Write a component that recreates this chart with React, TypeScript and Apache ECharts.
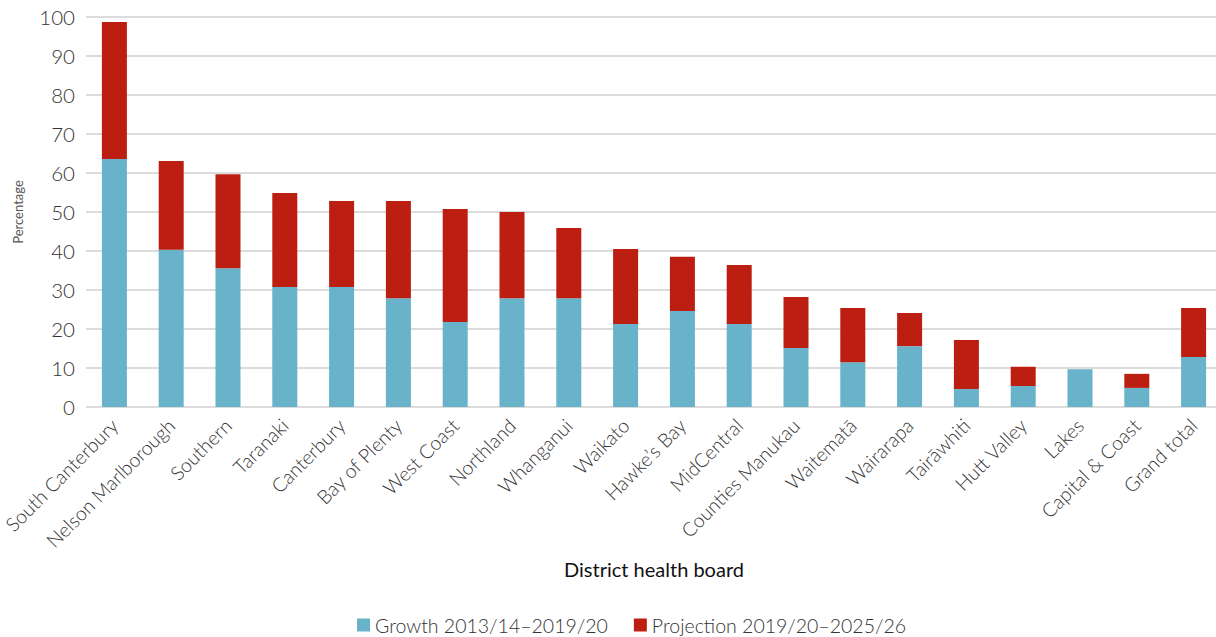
import React, { useEffect, useRef } from "react";
import * as echarts from "echarts";

const categories = [
  "South Canterbury", "Nelson Marlborough", "Southern", "Taranaki", "Canterbury",
  "Bay of Plenty", "West Coast", "Northland", "Whanganui", "Waikato",
  "Hawke\u2019s Bay", "MidCentral", "Counties Manukau", "Waitemat\u0101", "Wairarapa",
  "Tair\u0101whiti", "Hutt Valley", "Lakes", "Capital & Coast", "Grand total",
];
const growth = [63.6, 40.3, 35.6, 30.8, 30.8, 27.9, 21.8, 27.9, 27.9, 21.3, 24.6, 21.3, 15.1, 11.5, 15.6, 4.6, 5.4, 9.7, 4.9, 12.8];
const projection = [35.1, 22.8, 24.1, 24.1, 22.0, 24.9, 29.0, 22.1, 18.0, 19.2, 13.9, 15.1, 13.1, 13.9, 8.5, 12.6, 4.9, 0, 3.6, 12.6];
const yTicks = { min: 0, max: 100, interval: 10 };

const FONT = "Lato, 'Open Sans', sans-serif";

export default function App() {
  const ref = useRef<HTMLDivElement>(null);
  useEffect(() => {
    if (!ref.current) return;
    const chart = echarts.init(ref.current, undefined, { renderer: "svg" });
    chart.setOption({
      animation: false,
      textStyle: { fontFamily: FONT },
      grid: { left: 86, right: -6, top: 17, bottom: 230, containLabel: false, outerBoundsMode: "none" },
      legend: {
        top: 614,
        left: 357,
        padding: 0,
        itemWidth: 13,
        itemHeight: 13,
        itemGap: 26,
        icon: "rect",
        textStyle: { fontSize: 19.5, lineHeight: 22, color: "#333", fontFamily: FONT, fontWeight: 300 },
        data: ["Growth 2013/14\u20132019/20", "Projection 2019/20\u20132025/26"],
      },
      xAxis: {
        type: "category",
        data: categories,
        name: "District health board",
        nameLocation: "middle",
        nameGap: 152,
        nameTextStyle: { fontSize: 20, color: "#111", fontFamily: FONT },
        axisLine: { show: false },
        axisTick: { show: false },
        axisLabel: {
          rotate: 45,
          interval: 0,
          fontSize: 19.5,
          color: "#333",
          fontWeight: 300,
          margin: 15,
        },
      },
      yAxis: {
        type: "value",
        min: yTicks.min,
        max: yTicks.max,
        interval: yTicks.interval,
        name: "Percentage",
        nameLocation: "middle",
        nameRotate: 90,
        nameGap: 62,
        nameTextStyle: { fontSize: 13, color: "#555", fontFamily: FONT },
        axisLine: { show: false },
        axisTick: { show: false },
        axisLabel: { fontSize: 20.5, color: "#333", fontWeight: 300, margin: 11 },
        splitLine: { lineStyle: { color: "#dcdcdc", width: 2 } },
      },
      series: [
        {
          name: "Growth 2013/14\u20132019/20",
          type: "bar",
          stack: "total",
          data: growth,
          barWidth: 25,
          itemStyle: { color: "#68b3ca" },
        },
        {
          name: "Projection 2019/20\u20132025/26",
          type: "bar",
          stack: "total",
          data: projection,
          barWidth: 25,
          itemStyle: { color: "#bd1e12" },
        },
      ],
    });
    return () => chart.dispose();
  }, []);
  return <div ref={ref} style={{ width: 1216, height: 637, position: "absolute", left: 0, top: 0 }} />;
}
